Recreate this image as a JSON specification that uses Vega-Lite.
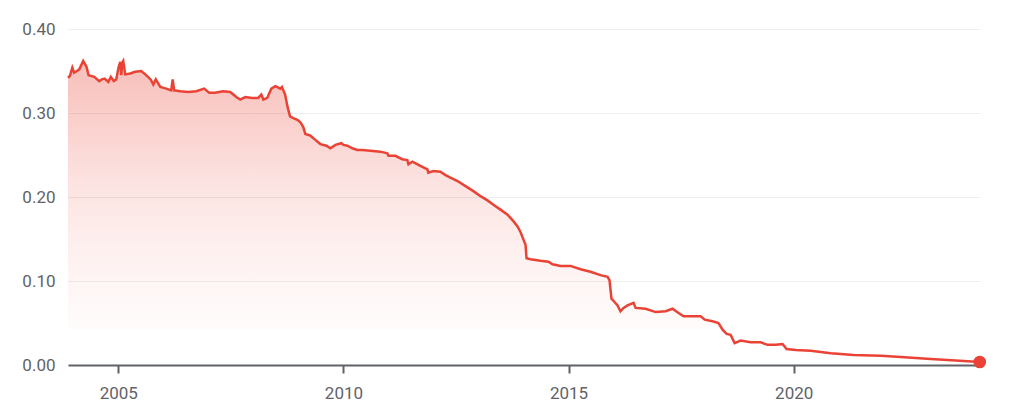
{
  "$schema": "https://vega.github.io/schema/vega-lite/v6.json",
  "width": 912,
  "height": 336,
  "autosize": "none",
  "padding": {"left": 68, "top": 29, "right": 29, "bottom": 50},
  "background": "white",
  "config": {
    "font": "Roboto",
    "view": {"stroke": null},
    "axis": {
      "labelColor": "#5f6368",
      "labelFont": "Roboto",
      "labelFontSize": 17,
      "title": null
    }
  },
  "data": {
    "values": [
      {"date": "2003-11-20", "price": 0.342},
      {"date": "2003-12-05", "price": 0.344},
      {"date": "2003-12-25", "price": 0.354},
      {"date": "2004-01-08", "price": 0.348},
      {"date": "2004-02-01", "price": 0.350},
      {"date": "2004-02-20", "price": 0.352},
      {"date": "2004-03-22", "price": 0.362},
      {"date": "2004-04-18", "price": 0.355},
      {"date": "2004-05-05", "price": 0.345},
      {"date": "2004-06-20", "price": 0.343},
      {"date": "2004-07-30", "price": 0.338},
      {"date": "2004-08-20", "price": 0.340},
      {"date": "2004-09-12", "price": 0.341},
      {"date": "2004-10-12", "price": 0.337},
      {"date": "2004-11-01", "price": 0.343},
      {"date": "2004-11-25", "price": 0.338},
      {"date": "2004-12-15", "price": 0.340},
      {"date": "2005-01-04", "price": 0.355},
      {"date": "2005-01-17", "price": 0.361},
      {"date": "2005-01-25", "price": 0.345},
      {"date": "2005-02-02", "price": 0.360},
      {"date": "2005-02-10", "price": 0.362},
      {"date": "2005-02-26", "price": 0.346},
      {"date": "2005-04-08", "price": 0.347},
      {"date": "2005-05-18", "price": 0.349},
      {"date": "2005-07-06", "price": 0.350},
      {"date": "2005-08-08", "price": 0.346},
      {"date": "2005-09-20", "price": 0.340},
      {"date": "2005-10-12", "price": 0.334},
      {"date": "2005-11-01", "price": 0.340},
      {"date": "2005-12-08", "price": 0.331},
      {"date": "2006-01-25", "price": 0.329},
      {"date": "2006-03-06", "price": 0.327},
      {"date": "2006-03-18", "price": 0.340},
      {"date": "2006-03-30", "price": 0.327},
      {"date": "2006-05-18", "price": 0.326},
      {"date": "2006-07-22", "price": 0.325},
      {"date": "2006-09-25", "price": 0.326},
      {"date": "2006-11-29", "price": 0.329},
      {"date": "2007-01-09", "price": 0.324},
      {"date": "2007-02-26", "price": 0.324},
      {"date": "2007-05-01", "price": 0.326},
      {"date": "2007-06-28", "price": 0.325},
      {"date": "2007-08-16", "price": 0.319},
      {"date": "2007-09-17", "price": 0.316},
      {"date": "2007-10-28", "price": 0.319},
      {"date": "2007-12-23", "price": 0.318},
      {"date": "2008-02-10", "price": 0.318},
      {"date": "2008-03-06", "price": 0.322},
      {"date": "2008-03-22", "price": 0.316},
      {"date": "2008-04-23", "price": 0.318},
      {"date": "2008-05-26", "price": 0.329},
      {"date": "2008-06-28", "price": 0.332},
      {"date": "2008-08-07", "price": 0.329},
      {"date": "2008-08-20", "price": 0.331},
      {"date": "2008-09-15", "price": 0.322},
      {"date": "2008-10-05", "price": 0.307},
      {"date": "2008-10-25", "price": 0.296},
      {"date": "2008-11-20", "price": 0.294},
      {"date": "2008-12-23", "price": 0.292},
      {"date": "2009-01-17", "price": 0.289},
      {"date": "2009-02-10", "price": 0.283},
      {"date": "2009-02-26", "price": 0.275},
      {"date": "2009-04-08", "price": 0.273},
      {"date": "2009-05-18", "price": 0.268},
      {"date": "2009-06-28", "price": 0.263},
      {"date": "2009-08-16", "price": 0.261},
      {"date": "2009-09-17", "price": 0.258},
      {"date": "2009-10-28", "price": 0.262},
      {"date": "2009-12-15", "price": 0.264},
      {"date": "2010-01-01", "price": 0.262},
      {"date": "2010-02-02", "price": 0.261},
      {"date": "2010-03-14", "price": 0.258},
      {"date": "2010-04-23", "price": 0.256},
      {"date": "2010-06-03", "price": 0.256},
      {"date": "2010-08-07", "price": 0.255},
      {"date": "2010-10-28", "price": 0.254},
      {"date": "2010-12-23", "price": 0.252},
      {"date": "2011-01-01", "price": 0.249},
      {"date": "2011-02-26", "price": 0.249},
      {"date": "2011-04-23", "price": 0.245},
      {"date": "2011-06-03", "price": 0.244},
      {"date": "2011-06-12", "price": 0.239},
      {"date": "2011-07-14", "price": 0.242},
      {"date": "2011-09-17", "price": 0.237},
      {"date": "2011-11-13", "price": 0.233},
      {"date": "2011-11-20", "price": 0.229},
      {"date": "2012-01-01", "price": 0.231},
      {"date": "2012-02-26", "price": 0.230},
      {"date": "2012-04-08", "price": 0.226},
      {"date": "2012-05-18", "price": 0.223},
      {"date": "2012-07-14", "price": 0.219},
      {"date": "2012-09-17", "price": 0.213},
      {"date": "2012-11-20", "price": 0.207},
      {"date": "2013-01-17", "price": 0.201},
      {"date": "2013-03-14", "price": 0.196},
      {"date": "2013-05-10", "price": 0.190},
      {"date": "2013-06-28", "price": 0.185},
      {"date": "2013-08-24", "price": 0.179},
      {"date": "2013-10-12", "price": 0.171},
      {"date": "2013-11-13", "price": 0.165},
      {"date": "2013-12-08", "price": 0.158},
      {"date": "2014-01-01", "price": 0.149},
      {"date": "2014-01-17", "price": 0.143},
      {"date": "2014-01-25", "price": 0.127},
      {"date": "2014-02-26", "price": 0.126},
      {"date": "2014-04-08", "price": 0.125},
      {"date": "2014-05-18", "price": 0.124},
      {"date": "2014-07-22", "price": 0.123},
      {"date": "2014-08-24", "price": 0.120},
      {"date": "2014-10-28", "price": 0.118},
      {"date": "2015-01-17", "price": 0.118},
      {"date": "2015-04-08", "price": 0.114},
      {"date": "2015-06-28", "price": 0.111},
      {"date": "2015-09-17", "price": 0.107},
      {"date": "2015-11-13", "price": 0.105},
      {"date": "2015-11-29", "price": 0.101},
      {"date": "2015-12-15", "price": 0.079},
      {"date": "2016-01-09", "price": 0.075},
      {"date": "2016-02-02", "price": 0.071},
      {"date": "2016-02-26", "price": 0.064},
      {"date": "2016-03-22", "price": 0.068},
      {"date": "2016-04-23", "price": 0.071},
      {"date": "2016-06-11", "price": 0.074},
      {"date": "2016-06-28", "price": 0.068},
      {"date": "2016-09-17", "price": 0.067},
      {"date": "2016-12-08", "price": 0.063},
      {"date": "2017-02-26", "price": 0.064},
      {"date": "2017-04-23", "price": 0.067},
      {"date": "2017-06-11", "price": 0.062},
      {"date": "2017-07-22", "price": 0.058},
      {"date": "2017-10-03", "price": 0.058},
      {"date": "2017-12-08", "price": 0.058},
      {"date": "2018-01-09", "price": 0.054},
      {"date": "2018-03-14", "price": 0.052},
      {"date": "2018-05-01", "price": 0.050},
      {"date": "2018-06-03", "price": 0.042},
      {"date": "2018-07-06", "price": 0.037},
      {"date": "2018-08-07", "price": 0.036},
      {"date": "2018-09-09", "price": 0.026},
      {"date": "2018-10-28", "price": 0.029},
      {"date": "2019-01-17", "price": 0.027},
      {"date": "2019-04-08", "price": 0.027},
      {"date": "2019-06-03", "price": 0.024},
      {"date": "2019-08-07", "price": 0.024},
      {"date": "2019-10-03", "price": 0.025},
      {"date": "2019-11-04", "price": 0.019},
      {"date": "2020-01-17", "price": 0.018},
      {"date": "2020-05-18", "price": 0.017},
      {"date": "2020-10-28", "price": 0.014},
      {"date": "2021-05-01", "price": 0.012},
      {"date": "2021-12-08", "price": 0.011},
      {"date": "2022-05-18", "price": 0.0095},
      {"date": "2023-01-17", "price": 0.007},
      {"date": "2023-08-07", "price": 0.0055},
      {"date": "2024-02-18", "price": 0.0036}
    ]
  },
  "encoding": {
    "x": {
      "field": "date",
      "type": "temporal",
      "scale": {"domain": ["2003-11-20", "2024-02-20"]},
      "axis": {
        "values": [{"year": 2005}, {"year": 2010}, {"year": 2015}, {"year": 2020}],
        "format": "%Y",
        "grid": false,
        "domainColor": "#5f6368",
        "domainWidth": 2,
        "tickColor": "#5f6368",
        "tickWidth": 2,
        "tickSize": 8,
        "labelPadding": 12
      }
    },
    "y": {
      "field": "price",
      "type": "quantitative",
      "scale": {"domain": [0, 0.4], "nice": false},
      "axis": {
        "values": [0, 0.1, 0.2, 0.3, 0.4],
        "format": ".2f",
        "domain": false,
        "ticks": false,
        "labelPadding": 13,
        "gridColor": "#eceef0",
        "gridWidth": 1
      }
    }
  },
  "layer": [
    {
      "mark": {
        "type": "area",
        "color": {
          "gradient": "linear",
          "x1": 0, "y1": 0, "x2": 0, "y2": 1,
          "stops": [
            {"offset": 0, "color": "rgba(234,67,53,0.34)"},
            {"offset": 0.2, "color": "rgba(234,67,53,0.25)"},
            {"offset": 0.4, "color": "rgba(234,67,53,0.15)"},
            {"offset": 0.62, "color": "rgba(234,67,53,0.08)"},
            {"offset": 0.8, "color": "rgba(234,67,53,0.035)"},
            {"offset": 0.88, "color": "rgba(234,67,53,0.015)"},
            {"offset": 0.885, "color": "rgba(234,67,53,0)"},
            {"offset": 1, "color": "rgba(234,67,53,0)"}
          ]
        }
      }
    },
    {
      "mark": {"type": "line", "color": "#ea4335", "strokeWidth": 2.5}
    },
    {
      "transform": [
        {"joinaggregate": [{"op": "max", "field": "date", "as": "last"}]},
        {"filter": "time(datum.date) == time(datum.last)"}
      ],
      "mark": {"type": "point", "filled": true, "opacity": 1, "color": "#ea4335", "size": 160}
    }
  ]
}
